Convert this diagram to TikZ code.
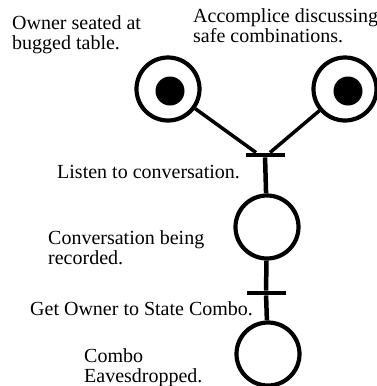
\documentclass[tikz,border=0pt]{standalone}
\usepackage{fontspec}
\setmainfont{Liberation Serif}
\usetikzlibrary{positioning}

\tikzset{
  place/.style={circle, draw, line width=4.2pt, minimum size=63pt, inner sep=0pt},
  tokendot/.style={circle, fill, minimum size=29pt, inner sep=0pt},
  bar/.style={rectangle, fill, minimum width=39pt, minimum height=4.5pt, inner sep=0pt},
  link/.style={line width=3.5pt},
  stem/.style={line width=4.5pt},
  lbl/.style={font=\fontsize{20}{19.5}\selectfont, align=left, anchor=base west, inner sep=0pt}
}

\begin{document}
\begin{tikzpicture}[x=1pt, y=-1pt]
        \useasboundingbox (0,0) rectangle (377,386);
        \clip (0,0) rectangle (377,386);
        % places with tokens
        \node[place] (owner) at (168,89) {};
        \node[tokendot] (ownertok) at (170,91) {};
        \node[place] (accomp) at (345,89) {};
        \node[tokendot] (accomptok) at (348,91) {};
        \node[place] (recorded) at (267,227) {};
        \node[place] (combo) at (268,354) {};
        % transitions
        \node[bar] (listen) at (265,155) {};
        \node[bar] (state) at (266,293) {};
        % arcs
        \draw[link] (owner) -- ([xshift=-9pt]listen.north);
        \draw[link] (accomp) -- ([xshift=5pt]listen.north);
        \draw[stem] (listen) -- (recorded);
        \draw[stem] (recorded) -- (state);
        \draw[stem] (state) -- (combo);
        % labels (base = last line)
        \node[lbl] (ownerlbl) at (12,49) {Owner seated at\\bugged table.};
        \node[lbl] (accomplbl) at (193,42) {Accomplice discussing\\safe combinations.};
        \node[lbl] (listenlbl) at (57,178) {Listen to conversation.};
        \node[lbl] (recordedlbl) at (48,264) {Conversation being\\recorded.};
        \node[lbl] (statelbl) at (30,315) {Get Owner to State Combo.};
        \node[lbl] (combolbl) at (84,382) {Combo\\Eavesdropped.};
      \end{tikzpicture}
\end{document}
